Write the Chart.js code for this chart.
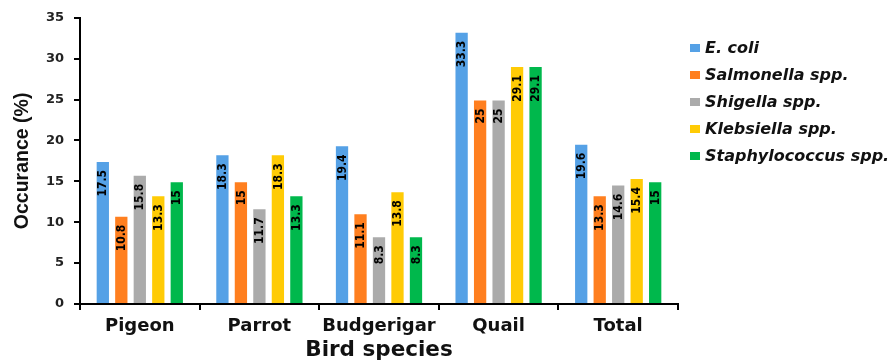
<!DOCTYPE html>
<html>
<head>
<meta charset="utf-8">
<script src="https://cdn.jsdelivr.net/npm/chart.js@4/dist/chart.umd.min.js"></script>
<style>
  html, body { margin: 0; padding: 0; background: #fff; }
  #wrap { width: 893px; height: 363px; position: relative; }
</style>
</head>
<body>
<div id="wrap"><canvas id="c" width="893" height="363"></canvas></div>
<script>
// Bird species and occurrence (%) of each bacterial genus
const categories = ['Pigeon', 'Parrot', 'Budgerigar', 'Quail', 'Total'];
const seriesNames = ['E. coli', 'Salmonella spp.', 'Shigella spp.', 'Klebsiella spp.', 'Staphylococcus spp.'];
const eColi          = [17.5, 18.3, 19.4, 33.3, 19.6];
const salmonella     = [10.8, 15,   11.1, 25,   13.3];
const shigella       = [15.8, 11.7, 8.3,  25,   14.6];
const klebsiella     = [13.3, 18.3, 13.8, 29.1, 15.4];
const staphylococcus = [15,   13.3, 8.3,  29.1, 15];
const yTicks = [0, 5, 10, 15, 20, 25, 30, 35];

const colors = ['#55A1E6', '#FF7F1F', '#ABABAB', '#FFCB05', '#00B84C'];
const seriesValues = [eColi, salmonella, shigella, klebsiella, staphylococcus];

const datasets = seriesNames.map((name, i) => ({
  label: name,
  data: seriesValues[i],
  backgroundColor: colors[i],
  borderColor: 'rgba(255,255,255,0.55)',
  borderWidth: 1,
  barPercentage: 0.773,
  categoryPercentage: 0.773
}));

const WIDE_FONT = '"DejaVu Sans", Verdana, sans-serif';

// Vertical value labels placed inside the top of each bar
const barValueLabels = {
  id: 'barValueLabels',
  afterDatasetsDraw(chart) {
    const ctx = chart.ctx;
    ctx.save();
    ctx.fillStyle = '#000';
    ctx.font = 'bold 12px "DejaVu Sans Condensed", "DejaVu Sans", sans-serif';
    ctx.textAlign = 'right';
    ctx.textBaseline = 'middle';
    chart.data.datasets.forEach((ds, di) => {
      const meta = chart.getDatasetMeta(di);
      meta.data.forEach((bar, i) => {
        ctx.save();
        ctx.translate(bar.x + 0.5, bar.y + 9);
        ctx.rotate(-Math.PI / 2);
        ctx.fillText(String(ds.data[i]), 0, 0);
        ctx.restore();
      });
    });
    ctx.restore();
  }
};

// Series key in a column to the right of the plot
const sideLegend = {
  id: 'sideLegend',
  afterDraw(chart) {
    const ctx = chart.ctx;
    const x0 = chart.chartArea.right + 12;
    const y0 = 48;
    const step = 27;
    ctx.save();
    ctx.font = 'italic bold 16px ' + WIDE_FONT;
    ctx.textAlign = 'left';
    ctx.textBaseline = 'middle';
    chart.data.datasets.forEach((ds, i) => {
      const y = y0 + i * step;
      ctx.fillStyle = ds.backgroundColor;
      ctx.fillRect(x0, y - 4, 10, 8);
      ctx.fillStyle = '#111';
      ctx.fillText(ds.label, x0 + 15, y + 1);
    });
    ctx.restore();
  }
};

new Chart(document.getElementById('c'), {
  type: 'bar',
  data: { labels: categories, datasets },
  plugins: [barValueLabels, sideLegend],
  options: {
    responsive: false,
    animation: false,
    layout: { padding: { top: 17, left: 0, right: 215, bottom: 0 } },
    plugins: {
      tooltip: { enabled: false },
      legend: { display: false }
    },
    scales: {
      x: {
        afterFit(scale) { scale.height = 59; },
        grid: { display: true, drawOnChartArea: false, drawTicks: true, tickLength: 6, color: '#000', lineWidth: 2 },
        border: { display: true, color: '#000', width: 2 },
        ticks: { color: '#111', padding: 6, font: { family: WIDE_FONT, size: 18, weight: 'bold' } },
        title: { display: true, text: 'Bird species', color: '#111', padding: { top: 0, bottom: 0 },
                 font: { family: WIDE_FONT, size: 21.5, weight: 'bold' } }
      },
      y: {
        min: 0,
        max: 35,
        afterFit(scale) { scale.width = 80; },
        afterBuildTicks(axis) { axis.ticks = yTicks.map(v => ({ value: v })); },
        grid: { display: true, drawOnChartArea: false, drawTicks: true, tickLength: 6, color: '#000', lineWidth: 2 },
        border: { display: true, color: '#000', width: 2 },
        ticks: { color: '#222', padding: 10, font: { family: WIDE_FONT, size: 13, weight: 'bold' } },
        title: { display: true, text: 'Occurance (%)', color: '#111', padding: { top: 11, bottom: 0 },
                 font: { family: 'Liberation Sans, Arial, sans-serif', size: 19.5, weight: 'bold' } }
      }
    }
  }
});
</script>
</body>
</html>
